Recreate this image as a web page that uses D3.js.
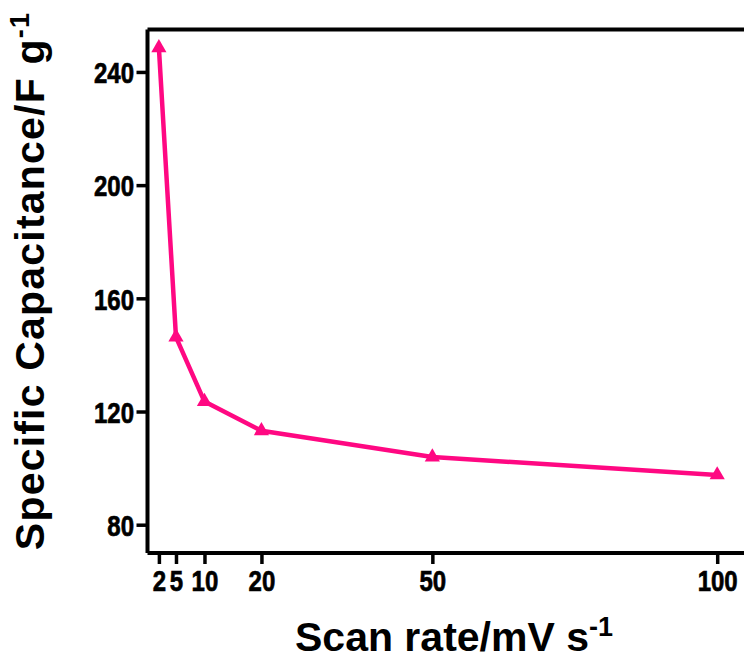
<!DOCTYPE html>
<html>
<head>
<meta charset="utf-8">
<script src="https://cdn.jsdelivr.net/npm/d3@7"></script>
<style>
  html, body { margin: 0; padding: 0; background: #fff; overflow: hidden; }
  svg { display: block; }
  .tick text { font-family: "Liberation Sans", Arial, sans-serif; font-weight: bold; font-size: 30px; fill: #000; stroke: #000; stroke-width: 0.7px; }
  .title { font-family: "Liberation Sans", Arial, sans-serif; font-weight: bold; font-size: 41px; fill: #000; }
</style>
</head>
<body>
<svg id="chart" width="744" height="659"></svg>
<script>
// Scan rates (mV/s) and specific capacitance (F/g)
const scanRates = [2, 5, 10, 20, 50, 100];
const capacitance = [248.5, 146.3, 123.5, 113.2, 103.9, 97.6];
const xTicks = [2, 5, 10, 20, 50, 100];
const yTicks = [80, 120, 160, 200, 240];

const plotLeft = 147.5, plotTop = 29.5, plotBottom = 553;
const narrow = 0.8; // horizontal squeeze of the tick numerals

const svg = d3.select("#chart");

const x = d3.scaleLinear().domain([0, 105]).range([plotLeft, plotLeft + 105 * 5.697]);
const y = d3.scaleLinear().domain([70, 255]).range([plotBottom, plotTop]);

const lineColor = "#ff0882";

// Frame: top and right edges (right edge sits past the canvas)
svg.append("path")
  .attr("d", `M${plotLeft},${plotTop}H${x(108)}V${plotBottom}`)
  .attr("fill", "none").attr("stroke", "#000").attr("stroke-width", 4);

// Y axis
const yAxis = svg.append("g")
  .attr("transform", `translate(${plotLeft},0)`)
  .call(d3.axisLeft(y).tickValues(yTicks).tickSize(11).tickPadding(3).tickFormat(d3.format("d")));
yAxis.select(".domain").attr("stroke-width", 4).attr("d", `M0,${plotTop}V${plotBottom}`);
yAxis.selectAll(".tick line").attr("stroke-width", 3.5);
yAxis.selectAll(".tick text")
  .attr("x", -13.5 / narrow)
  .attr("dy", "0.36em")
  .attr("transform", `scale(${narrow},1)`);

// X axis
const xAxis = svg.append("g")
  .attr("transform", `translate(0,${plotBottom})`)
  .call(d3.axisBottom(x).tickValues(xTicks).tickSize(11).tickPadding(6).tickFormat(d3.format("d")));
xAxis.select(".domain").attr("stroke-width", 4).attr("d", `M${plotLeft},0H${x(108)}`);
xAxis.selectAll(".tick line").attr("stroke-width", 3.5);
xAxis.selectAll(".tick text").attr("transform", `scale(${narrow},1)`);

// Data line
const pts = scanRates.map((r, i) => [r, capacitance[i]]);
svg.append("path")
  .datum(pts)
  .attr("fill", "none")
  .attr("stroke", lineColor)
  .attr("stroke-width", 4.5)
  .attr("stroke-linejoin", "round")
  .attr("d", d3.line().x(d => x(d[0])).y(d => y(d[1])));

// Triangle markers
svg.append("g").selectAll("path")
  .data(pts)
  .join("path")
  .attr("transform", d => `translate(${x(d[0])},${y(d[1])})`)
  .attr("d", d3.symbol(d3.symbolTriangle, 100)())
  .attr("fill", lineColor);

// Axis titles
const xt = svg.append("text").attr("class", "title")
  .attr("x", 454).attr("y", 651).attr("text-anchor", "middle");
xt.append("tspan").text("Scan rate/mV s");
xt.append("tspan").attr("dy", -15).attr("font-size", 27).text("-1");

const yt = svg.append("text").attr("class", "title")
  .attr("transform", `translate(44,${(547 + 15) / 2}) rotate(-90)`)
  .attr("text-anchor", "middle")
  .attr("letter-spacing", 1.2);
yt.append("tspan").text("Specific Capacitance/F g");
yt.append("tspan").attr("dy", -15).attr("font-size", 27).text("-1");
</script>
</body>
</html>
